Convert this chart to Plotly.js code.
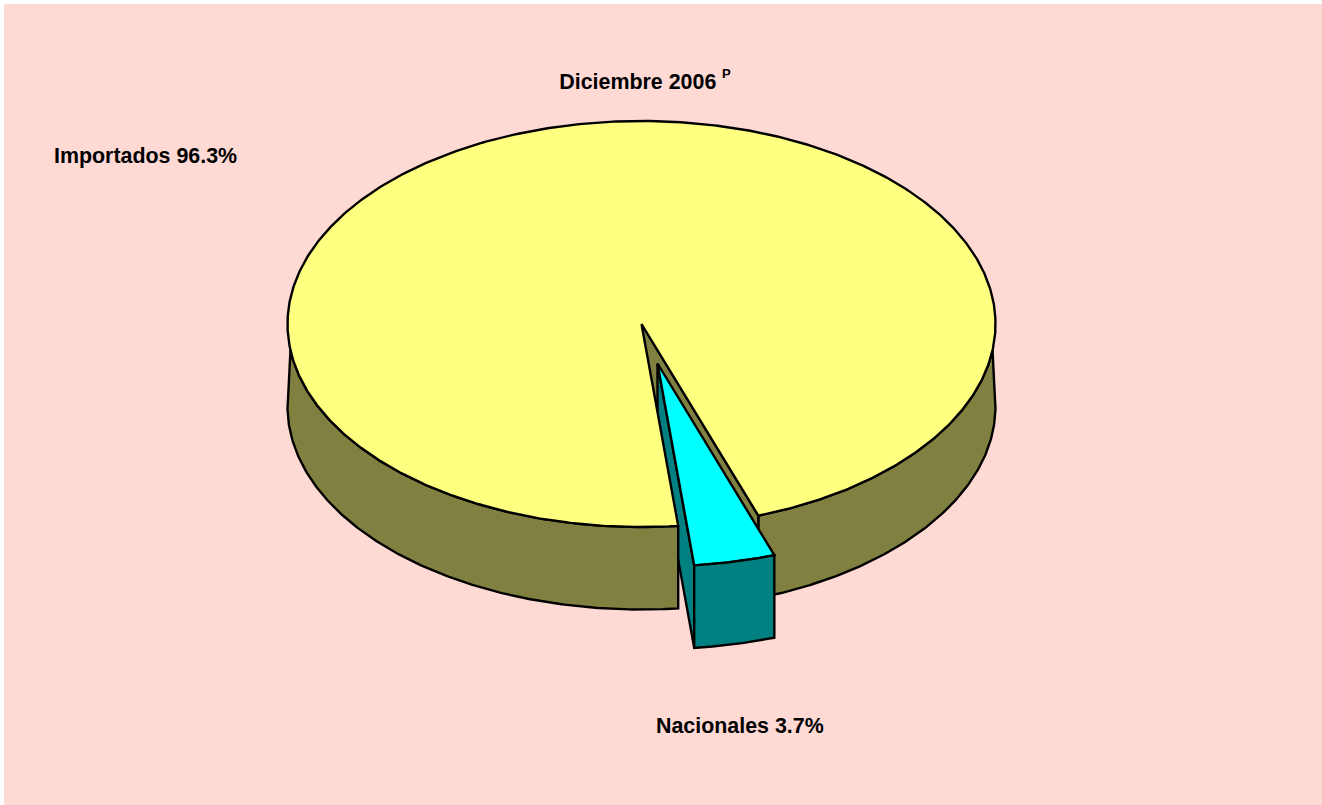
<!DOCTYPE html>
<html>
<head>
<meta charset="utf-8">
<script src="https://cdn.plot.ly/plotly-3.0.1.min.js"></script>
<style>html,body{margin:0;padding:0;background:#fff;overflow:hidden}#chart{width:1322px;height:805px}</style>
</head>
<body>
<div id="chart"></div>
<script>
var categories = ["Importados", "Nacionales"];
var shares = [96.3, 3.7];
var titleText = "Diciembre 2006";
var titleMark = "P";

var centre = [641.5, 324], radii = [354, 203], depth = 82.5, offset = [16, 39.5];
var startDeg = 5.95;
var sweep = shares[1] / (shares[0] + shares[1]) * 360;
var a0 = startDeg, a1 = startDeg + sweep, edgeDeg = 82.6;
var black = "#000000";

function pt(deg, dx, dy) {
  var r = deg * Math.PI / 180;
  return [centre[0] + radii[0] * Math.sin(r) + (dx || 0), centre[1] + radii[1] * Math.cos(r) + (dy || 0)];
}
function arc(from, to, dx, dy) {
  var n = Math.max(2, Math.ceil(Math.abs(to - from) * 2)), out = [];
  for (var i = 0; i <= n; i++) out.push(pt(from + (to - from) * i / n, dx, dy));
  return out;
}
function poly(points, fill, name) {
  var closed = points.concat([points[0]]);
  return {
    type: "scatter", mode: "lines", name: name, hoverinfo: "skip", showlegend: false,
    x: closed.map(function (p) { return p[0]; }),
    y: closed.map(function (p) { return p[1]; }),
    fill: "toself", fillcolor: fill,
    line: { color: black, width: 2.4 }
  };
}

var wallRight = arc(a1, edgeDeg).concat([pt(85, 0, 41), pt(87.5, 0, 63)], arc(90, a1, 0, depth));
var wallLeft = arc(a0, -edgeDeg).concat([pt(-85, 0, 41), pt(-87.5, 0, 63)], arc(-90, a0, 0, depth));
var cutFace = [centre, pt(a1), pt(a1, 0, depth), [centre[0], centre[1] + depth]];
var apex = [centre[0] + offset[0], centre[1] + offset[1]];
var sideFace = [apex, pt(a0, offset[0], offset[1]), pt(a0, offset[0], offset[1] + depth), [apex[0], apex[1] + depth]];
var bodyTop = [centre].concat(arc(a1, a0 + 360));
var sliceTop = [apex].concat(arc(a0, a1, offset[0], offset[1]));
var sliceFront = arc(a0, a1, offset[0], offset[1]).concat(arc(a1, a0, offset[0], offset[1] + depth));

var data = [
  poly(wallRight, "#808040", categories[0] + " pared"),
  poly(cutFace, "#808040", categories[0] + " corte"),
  poly(sideFace, "#008080", categories[1] + " lado"),
  poly(wallLeft, "#808040", categories[0] + " pared"),
  poly(bodyTop, "#FFFF80", categories[0]),
  poly(sliceTop, "#00FFFF", categories[1]),
  poly(sliceFront, "#008080", categories[1] + " frente")
];

var font = { family: "Liberation Sans, Arial, sans-serif", size: 21.4, color: black };
function label(text, x, y, size) {
  return {
    text: "<b>" + text + "</b>", x: x, y: y, xref: "x", yref: "y",
    xanchor: "left", yanchor: "middle", showarrow: false,
    font: { family: font.family, size: size || font.size, color: black }
  };
}

var layout = {
  width: 1322, height: 805,
  margin: { l: 4, r: 0, t: 4, b: 0 },
  paper_bgcolor: "#FFFFFF", plot_bgcolor: "#FFD9D4",
  showlegend: false,
  title: {
    text: "<b>" + titleText + "</b>",
    font: font, x: 557 / 1322, xref: "paper", xanchor: "left",
    y: 1 - 82 / 805, yref: "container", yanchor: "middle"
  },
  xaxis: { range: [4, 1322], visible: false, fixedrange: true },
  yaxis: { range: [805, 4], visible: false, fixedrange: true },
  annotations: [
    label(titleMark, 720, 73, 13),
    label(categories[0] + " " + shares[0] + "%", 52, 156),
    label(categories[1] + " " + shares[1] + "%", 654, 726)
  ]
};
Plotly.newPlot("chart", data, layout, { displayModeBar: false, staticPlot: true });
</script>
</body>
</html>
